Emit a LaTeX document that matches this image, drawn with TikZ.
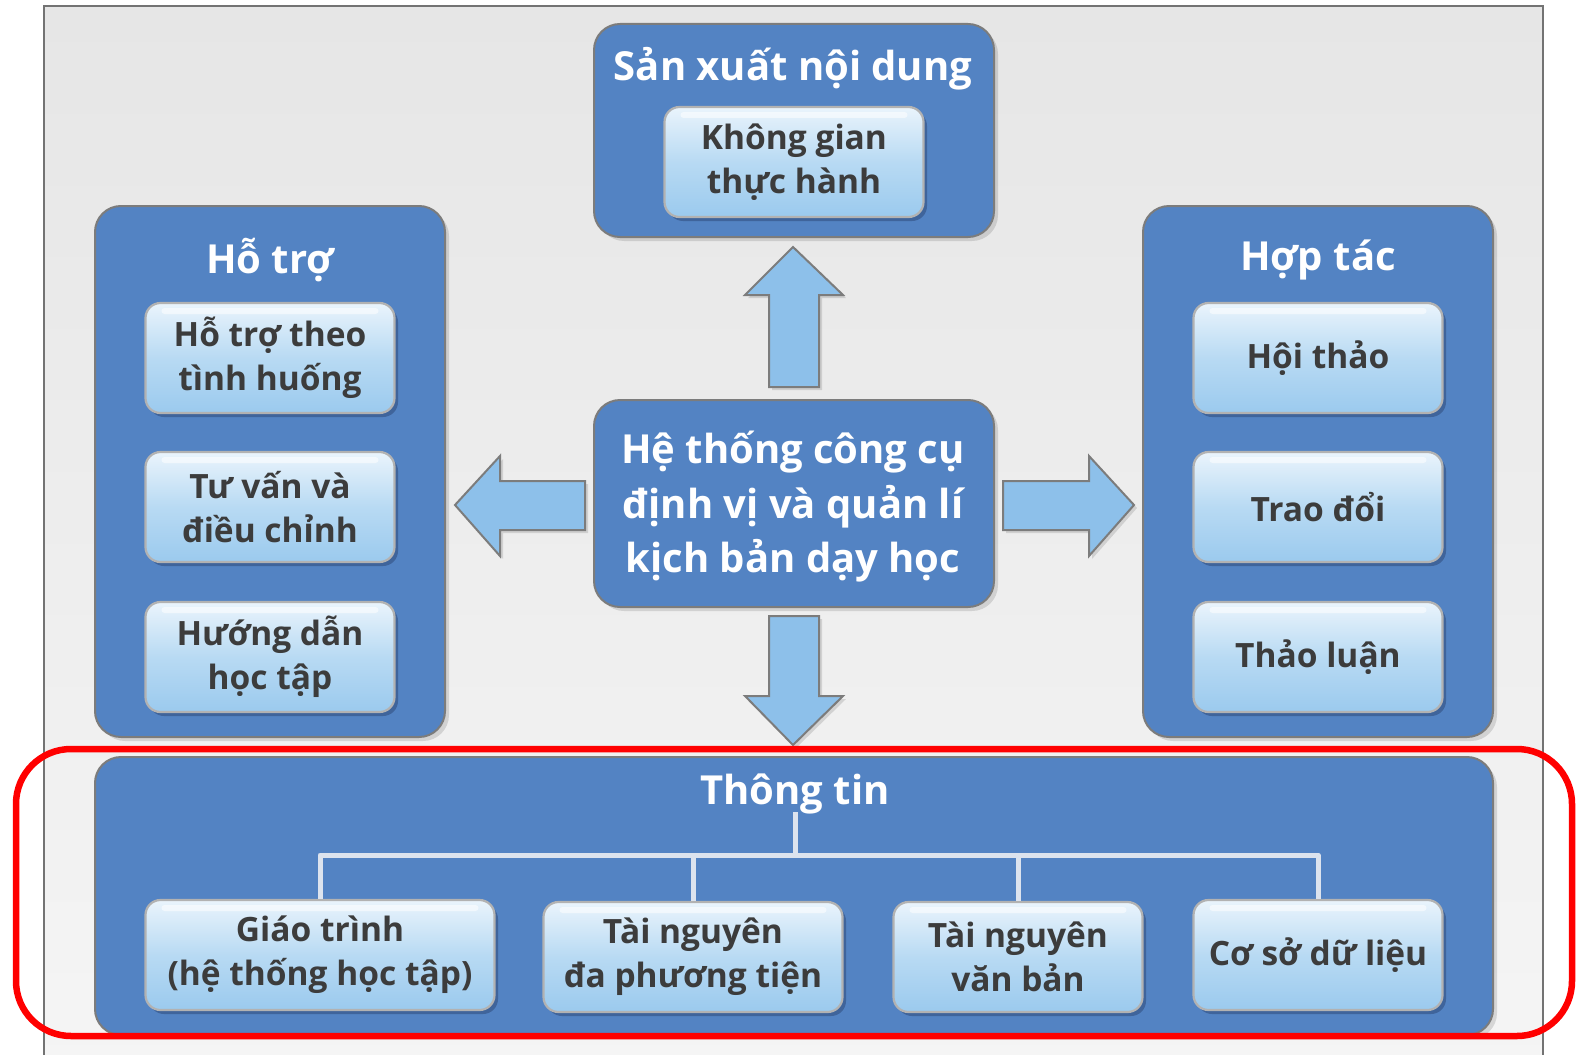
\documentclass[tikz,border=0pt]{standalone}
\usepackage{fontspec}
\setmainfont{Open Sans}
\usetikzlibrary{shadows}
\definecolor{boxblue}{HTML}{5383C3}
\definecolor{boxline}{HTML}{7C7C7C}
\definecolor{arrowfill}{HTML}{8DC0EA}
\definecolor{txtdark}{HTML}{3C3C3C}
\definecolor{glossTop}{HTML}{EAF4FC}
\definecolor{glossMid}{HTML}{B8DAF3}
\definecolor{glossBot}{HTML}{9BCAEE}
\definecolor{innerShadow}{HTML}{3F649B}
\definecolor{bgTop}{HTML}{E6E6E6}
\definecolor{bgBot}{HTML}{F5F5F5}
\definecolor{connc}{HTML}{DCE3EE}
\definecolor{redmark}{HTML}{FF0000}
\begin{document}
\begin{tikzpicture}[x=1pt,y=-1pt,
  outerbox/.style={draw=boxline, line width=2pt, fill=boxblue, rounded corners=26pt, inner sep=0pt,
    drop shadow={shadow xshift=4pt, shadow yshift=-4pt, fill=black, opacity=0.12}},
  innerbox/.style={draw=black!30, line width=2.2pt, rounded corners=15pt,
    top color=glossTop, bottom color=glossBot, middle color=glossMid,
    text=txtdark, align=center, inner sep=0pt,
    font=\bfseries\fontsize{33.5}{44}\selectfont,
    path picture={\fill[white, opacity=0.55, rounded corners=3pt]
      ([xshift=16pt,yshift=-5pt]path picture bounding box.north west) rectangle
      ([xshift=-16pt,yshift=-11pt]path picture bounding box.north east);},
    drop shadow={shadow xshift=3.5pt, shadow yshift=-4pt, fill=innerShadow, opacity=1}},
  titletext/.style={text=white, align=center, inner sep=0pt, font=\bfseries\fontsize{40}{54.5}\selectfont},
  blockarrow/.style={fill=arrowfill, draw=boxline, line width=2pt, line join=miter,
    drop shadow={shadow xshift=3pt, shadow yshift=-3pt, fill=black, opacity=0.12}},
  connline/.style={draw=connc, line width=5pt, line join=round},
]
\useasboundingbox (0,0) rectangle (1578,1054);
\clip (0,0) rectangle (1578,1054);
% frame
\fill[white] (0,0) rectangle (1578,1054);
\shade[top color=bgTop, bottom color=bgBot] (44,6) rectangle (1543,1080);
\draw[black!55, line width=2pt] (44,1080) -- (44,6) -- (1543,6) -- (1543,1080);

% outer group boxes
\node[outerbox, minimum width=400pt, minimum height=213pt] (sx) at (794,130.5) {};
\node[outerbox, minimum width=350pt, minimum height=531pt] (ho) at (270,471.5) {};
\node[outerbox, minimum width=350pt, minimum height=531pt] (hp) at (1318,471.5) {};
\node[outerbox, minimum width=1398pt, minimum height=278pt] (tt) at (794,896) {};
\node[outerbox, minimum width=400pt, minimum height=207pt, titletext] (ctr) at (794,503.5) {};
\node[titletext] (ctrt) at (793,507) {Hệ thống công cụ\\định vị và quản lí\\kịch bản dạy học};

% titles
\node[titletext] (sxt) at (793,69) {Sản xuất nội dung};
\node[titletext] (hot) at (270,260) {Hỗ trợ};
\node[titletext] (hpt) at (1318,260) {Hợp tác};
\node[titletext] (ttt) at (795,794) {Thông tin};

% block arrows
\draw[blockarrow] (793,247) -- (843,295) -- (819,295) -- (819,387) -- (769,387) -- (769,295) -- (745,295) -- cycle;
\draw[blockarrow] (793,745) -- (843,696) -- (819,696) -- (819,616) -- (769,616) -- (769,696) -- (745,696) -- cycle;
\draw[blockarrow] (455,505) -- (500,456) -- (500,481) -- (585,481) -- (585,530) -- (500,530) -- (500,556) -- cycle;
\draw[blockarrow] (1134,505) -- (1089,456) -- (1089,481) -- (1003,481) -- (1003,530) -- (1089,530) -- (1089,556) -- cycle;

% inner boxes
\node[innerbox, minimum width=259pt, minimum height=110pt] (kg) at (794,162) {Không gian\\thực hành};
\node[innerbox, minimum width=249pt, minimum height=110pt] (h1) at (270,358) {Hỗ trợ theo\\tình huống};
\node[innerbox, minimum width=249pt, minimum height=110pt] (h2) at (270,507) {Tư vấn và\\điều chỉnh};
\node[innerbox, minimum width=249pt, minimum height=110pt] (h3) at (270,657) {Hướng dẫn\\học tập};
\node[innerbox, minimum width=249pt, minimum height=110pt] (p1) at (1318,358) {Hội thảo};
\node[innerbox, minimum width=249pt, minimum height=110pt] (p2) at (1318,507) {Trao đổi};
\node[innerbox, minimum width=249pt, minimum height=110pt] (p3) at (1318,657) {Thảo luận};
\node[innerbox, minimum width=349pt, minimum height=110pt] (b1) at (320,955) {Giáo trình\\(hệ thống học tập)};
\node[innerbox, minimum width=299pt, minimum height=110pt] (b2) at (693,957) {Tài nguyên\\đa phương tiện};
\node[innerbox, minimum width=249pt, minimum height=110pt] (b3) at (1018,957) {Tài nguyên\\văn bản};
\node[innerbox, minimum width=249pt, minimum height=110pt] (b4) at (1318,955) {Cơ sở dữ liệu};

% tree connectors
\coordinate (ttb) at (795,812);
\coordinate (hub) at (795,855);
\draw[connline] (ttb) -- (hub);
\draw[connline] (b1.north) -- (b1.north |- hub) -- (b4.north |- hub) -- (b4.north);
\draw[connline] (b2.north) -- (b2.north |- hub);
\draw[connline] (b3.north) -- (b3.north |- hub);

% red highlight
\draw[redmark, line width=6.5pt, rounded corners=55pt] (16,749) rectangle (1572,1036);
\end{tikzpicture}
\end{document}
